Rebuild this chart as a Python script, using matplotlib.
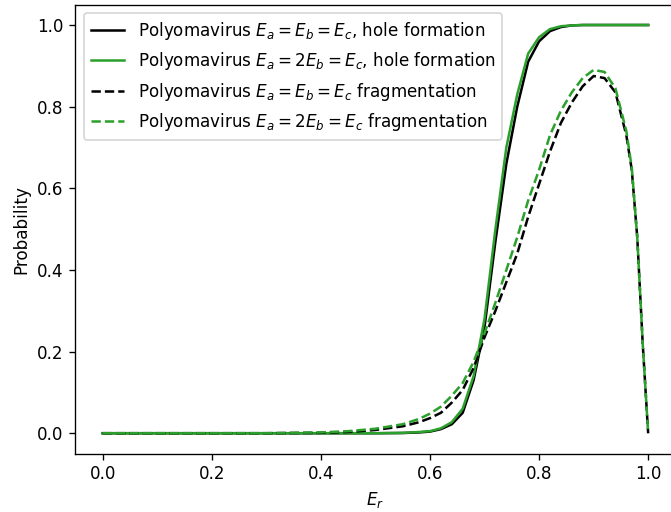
import matplotlib
matplotlib.use("Agg")
import matplotlib.pyplot as plt

# values
er = [0.0, 0.1, 0.2, 0.3, 0.35, 0.4, 0.45, 0.5, 0.55, 0.58, 0.6, 0.62, 0.64,
      0.66, 0.68, 0.70, 0.72, 0.74, 0.76, 0.78, 0.80, 0.82, 0.84, 0.86, 0.88,
      0.90, 0.92, 0.94, 0.96, 0.97, 0.98, 0.99, 1.0]

hole_equal = [0.0, 0.0, 0.0, 0.0, 0.0, 0.0, 0.0, 0.0, 0.0005, 0.002, 0.004,
              0.01, 0.022, 0.05, 0.13, 0.26, 0.47, 0.66, 0.80, 0.91, 0.96,
              0.985, 0.995, 0.999, 1.0, 1.0, 1.0, 1.0, 1.0, 1.0, 1.0, 1.0, 1.0]

hole_2b = [0.0, 0.0, 0.0, 0.0, 0.0, 0.0, 0.0, 0.0, 0.0008, 0.003, 0.005,
           0.012, 0.027, 0.06, 0.14, 0.28, 0.50, 0.70, 0.83, 0.93, 0.97,
           0.99, 0.997, 0.999, 1.0, 1.0, 1.0, 1.0, 1.0, 1.0, 1.0, 1.0, 1.0]

frag_equal = [0.0, 0.0, 0.0, 0.0, 0.0005, 0.001, 0.003, 0.008, 0.017, 0.027,
              0.037, 0.05, 0.075, 0.106, 0.16, 0.235, 0.30, 0.37, 0.44, 0.53,
              0.61, 0.69, 0.76, 0.81, 0.85, 0.875, 0.87, 0.835, 0.73, 0.645,
              0.48, 0.22, 0.0]

frag_2b = [0.0, 0.0, 0.0, 0.0, 0.001, 0.002, 0.005, 0.011, 0.022, 0.035,
           0.048, 0.065, 0.092, 0.123, 0.175, 0.245, 0.32, 0.40, 0.48, 0.57,
           0.645, 0.73, 0.79, 0.835, 0.87, 0.89, 0.885, 0.845, 0.74, 0.65,
           0.48, 0.22, 0.0]

dpi = 121
fig, ax = plt.subplots(figsize=(671 / dpi, 512 / dpi), dpi=dpi)
# the reference is cropped just inside the right spine
fig.subplots_adjust(left=0.1124, right=1.0066, bottom=0.114, top=0.991)

ax.plot(er, hole_equal, color="black",
        label=r"Polyomavirus $E_a=E_b=E_c$, hole formation")
ax.plot(er, hole_2b, color="tab:green",
        label=r"Polyomavirus $E_a=2E_b=E_c$, hole formation")
ax.plot(er, frag_equal, color="black", ls="--",
        label=r"Polyomavirus $E_a=E_b=E_c$ fragmentation")
ax.plot(er, frag_2b, color="tab:green", ls="--",
        label=r"Polyomavirus $E_a=2E_b=E_c$ fragmentation")

ax.set_xlabel(r"$E_r$")
ax.set_ylabel("Probability")
ax.legend(loc="upper left")

fig.savefig("out.png", dpi=dpi)
